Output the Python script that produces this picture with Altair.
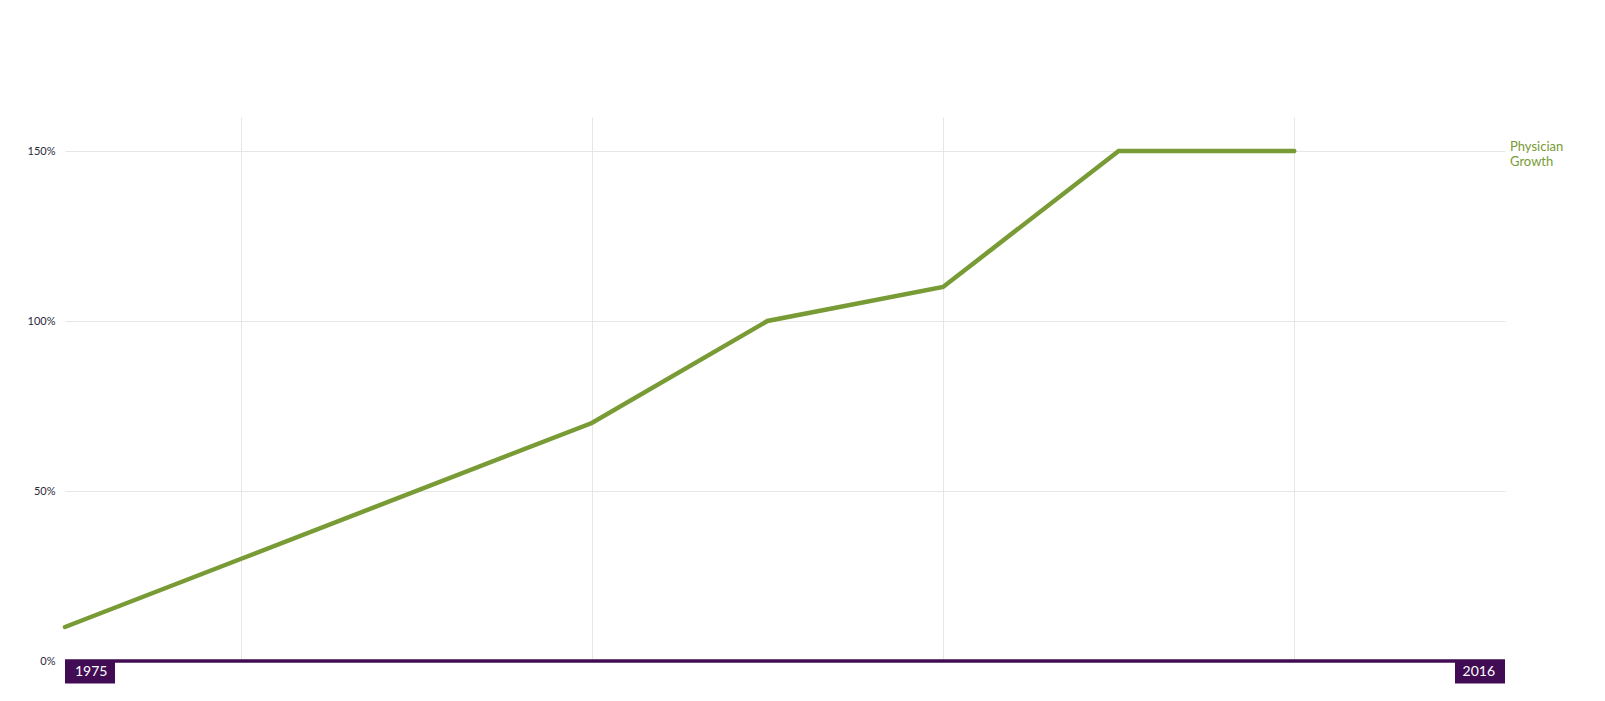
import altair as alt
import pandas as pd

years = [1975, 1980, 1990, 1995, 2000, 2005, 2010]
growth = [10, 30, 70, 100, 110, 150, 150]
grid_years = [1980, 1990, 2000, 2010]
y_ticks = [0, 50, 100, 150]
end_labels = ["1975", "2016"]
end_years = [1975, 2016]
series_name = "Physician Growth"

FONT = "Lato"
GREEN = "#789b35"
PURPLE = "#410c54"

df = pd.DataFrame({"year": years, "growth": growth})
ends = pd.DataFrame({"year": end_years, "label": end_labels, "zero": [0, 0]})

xscale = alt.Scale(domain=[1975, 2016], nice=False, zero=False)
yscale = alt.Scale(domain=[0, 160], nice=False)

line = alt.Chart(df).mark_line(color=GREEN, strokeWidth=4.5, strokeCap="round").encode(
    x=alt.X("year:Q", scale=xscale,
            axis=alt.Axis(values=grid_years, labels=False, ticks=False, domain=False,
                          title=None, grid=True, gridColor="#e6e6e6", gridWidth=1)),
    y=alt.Y("growth:Q", scale=yscale,
            axis=alt.Axis(values=y_ticks, labelExpr="datum.value + '%'", ticks=False,
                          domain=False, title=None, grid=True, gridColor="#e6e6e6",
                          labelFont=FONT, labelFontSize=11, labelColor="#2a2a3a",
                          labelPadding=10)),
)

baseline = alt.Chart(ends).mark_rule(color=PURPLE, strokeWidth=3.5).encode(
    x=alt.X("min(year):Q", scale=xscale),
    x2=alt.X2("max(year):Q"),
    y=alt.Y("min(zero):Q", scale=yscale),
)

left = ends.iloc[[0]]
right = ends.iloc[[1]]

box_l = alt.Chart(left).mark_rect(color=PURPLE, width=50, height=23, xOffset=25, yOffset=11).encode(
    x=alt.X("year:Q", scale=xscale), y=alt.Y("zero:Q", scale=yscale))
box_r = alt.Chart(right).mark_rect(color=PURPLE, width=50, height=23, xOffset=-25, yOffset=11).encode(
    x=alt.X("year:Q", scale=xscale), y=alt.Y("zero:Q", scale=yscale))

txt_l = alt.Chart(left).mark_text(color="white", font=FONT, fontSize=14, align="left",
                                  baseline="middle", dx=10, dy=11).encode(
    x=alt.X("year:Q", scale=xscale), y=alt.Y("zero:Q", scale=yscale), text="label:N")
txt_r = alt.Chart(right).mark_text(color="white", font=FONT, fontSize=14, align="right",
                                   baseline="middle", dx=-10, dy=11).encode(
    x=alt.X("year:Q", scale=xscale), y=alt.Y("zero:Q", scale=yscale), text="label:N")

last = pd.DataFrame({"year": [2016], "growth": [growth[-1]], "name": [series_name]})
legend = alt.Chart(last).mark_text(color=GREEN, font=FONT, fontSize=13, align="left",
                                   baseline="middle", dx=5, dy=-4, lineBreak=" ",
                                   lineHeight=14.5).encode(
    x=alt.X("year:Q", scale=xscale), y=alt.Y("growth:Q", scale=yscale), text="name:N")

chart = alt.layer(line, baseline, box_l, box_r, txt_l, txt_r, legend).properties(
    width=1440, height=544,
    background="white",
    autosize=alt.AutoSizeParams(type="none"),
    padding={"left": 57, "top": 109, "right": 90, "bottom": 30},
).configure_view(strokeWidth=0, stroke="transparent")

chart.save("out.html", embed_options={"renderer": "svg", "actions": False})
